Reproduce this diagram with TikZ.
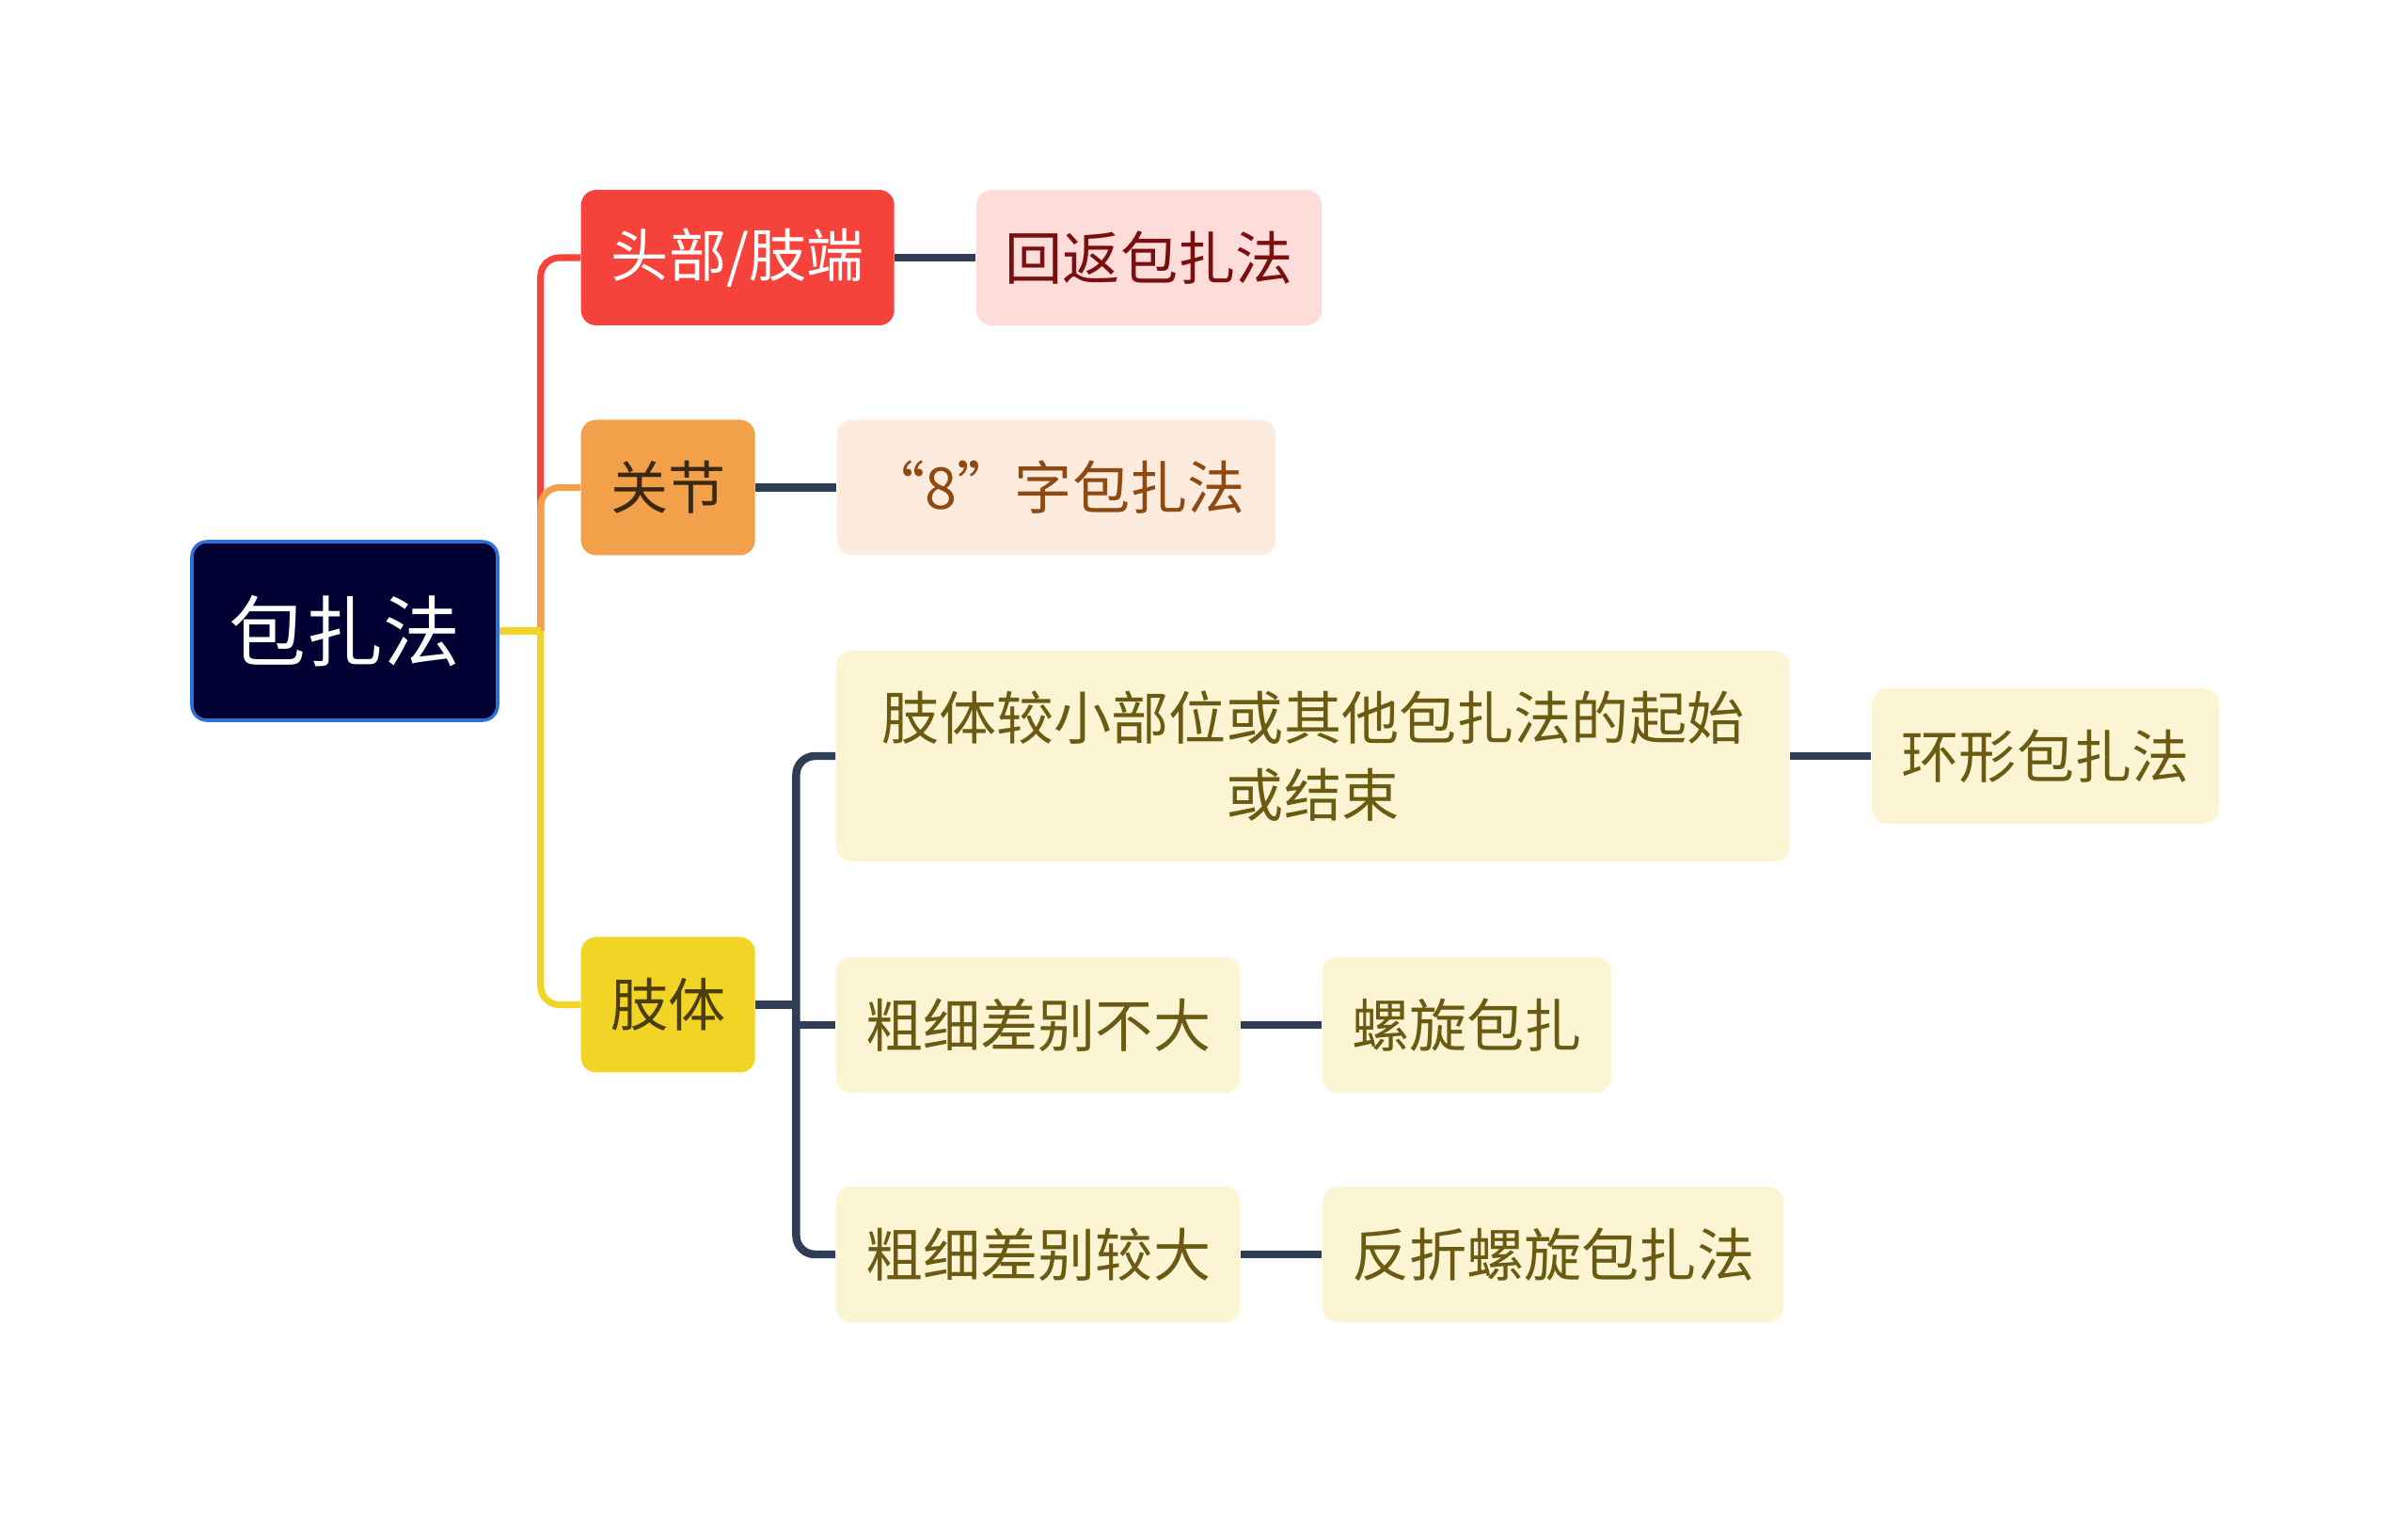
\documentclass[tikz,border=0pt]{standalone}
\usepackage{fontspec}
\setmainfont{Noto Sans CJK SC}
\usetikzlibrary{positioning,calc}

\definecolor{rootbg}{HTML}{000033}
\definecolor{rootrim}{HTML}{2E6FD8}
\definecolor{headbg}{HTML}{F5423B}
\definecolor{backbg}{HTML}{FDDCDA}
\definecolor{backtxt}{HTML}{7B0F0F}
\definecolor{jointbg}{HTML}{F3A04A}
\definecolor{jointtxt}{HTML}{3B2A12}
\definecolor{eightbg}{HTML}{FDEBDD}
\definecolor{eighttxt}{HTML}{8F4A12}
\definecolor{limbbg}{HTML}{F1D425}
\definecolor{limbtxt}{HTML}{4B3D0E}
\definecolor{leafbg}{HTML}{FCF5D4}
\definecolor{leaftxt}{HTML}{6A5A12}
\definecolor{linkc}{HTML}{2F3D55}

\begin{document}
\begin{tikzpicture}[
    node distance=0.86cm,
    box/.style={rounded corners=0.16cm, minimum height=1.44cm, inner sep=0pt, align=center, font=\fontsize{17.4}{23.3}\selectfont},
    leaf/.style={box, fill=leafbg, text=leaftxt},
    br/.style={line width=2pt, rounded corners=0.2cm},
    link/.style={line width=2.4pt, draw=linkc, rounded corners=0.2cm}
]
\useasboundingbox (0,0) rectangle (25.6,-16.09);

\node[box, fill=rootbg, draw=rootrim, line width=1pt, text=white, minimum width=3.25cm, minimum height=1.9cm, font=\fontsize{23.3}{28}\selectfont] (root) at (3.665,-6.71) {包扎法};

\node[box, anchor=west, fill=headbg, text=white, minimum width=3.33cm] (head) at (6.17,-2.74) {头部/肢端};
\node[box, right=of head, fill=backbg, text=backtxt, minimum width=3.67cm] (back) {回返包扎法};

\node[box, anchor=west, fill=jointbg, text=jointtxt, minimum width=1.85cm] (joint) at (6.17,-5.185) {关节};
\node[box, right=of joint, fill=eightbg, text=eighttxt, minimum width=4.66cm] (eight) {“8”字包扎法};

\node[box, anchor=west, fill=limbbg, text=limbtxt, minimum width=1.85cm] (limb) at (6.17,-10.685) {肢体};

\node[leaf, anchor=west, minimum width=10.14cm, minimum height=2.24cm, text width=9.4cm] (big) at (8.88,-8.04) {肢体较小部位或其他包扎法的起始\\或结束};
\node[leaf, right=of big, minimum width=3.69cm] (ring) {环形包扎法};
\node[leaf, anchor=west, minimum width=4.3cm] (thin) at (8.88,-10.9) {粗细差别不大};
\node[leaf, right=of thin, minimum width=3.07cm] (spiral) {螺旋包扎};
\node[leaf, anchor=west, minimum width=4.3cm] (thick) at (8.88,-13.34) {粗细差别较大};
\node[leaf, right=of thick, minimum width=4.9cm] (fold) {反折螺旋包扎法};

% main branches
\coordinate (rj) at ($(root.east)+(0.44,0)$);
\draw[br, draw=headbg] (rj) |- (head.west);
\draw[br, draw=jointbg] (rj) |- (joint.west);
\draw[br, draw=limbbg] (rj) |- (limb.west);
\draw[line width=2pt, draw=limbbg] (root.east) -- (rj);

% limb children
\coordinate (lj) at ($(limb.east)+(0.43,0)$);
\draw[link] (big.west) -| (lj) |- (thick.west);
\draw[link] (limb.east) -- (lj);
\draw[link] (lj|-thin.west) -- (thin.west);

% leaves
\draw[link] (head.east) -- (back.west);
\draw[link] (joint.east) -- (eight.west);
\draw[link] (big.east) -- (ring.west);
\draw[link] (thin.east) -- (spiral.west);
\draw[link] (thick.east) -- (fold.west);
\end{tikzpicture}
\end{document}
